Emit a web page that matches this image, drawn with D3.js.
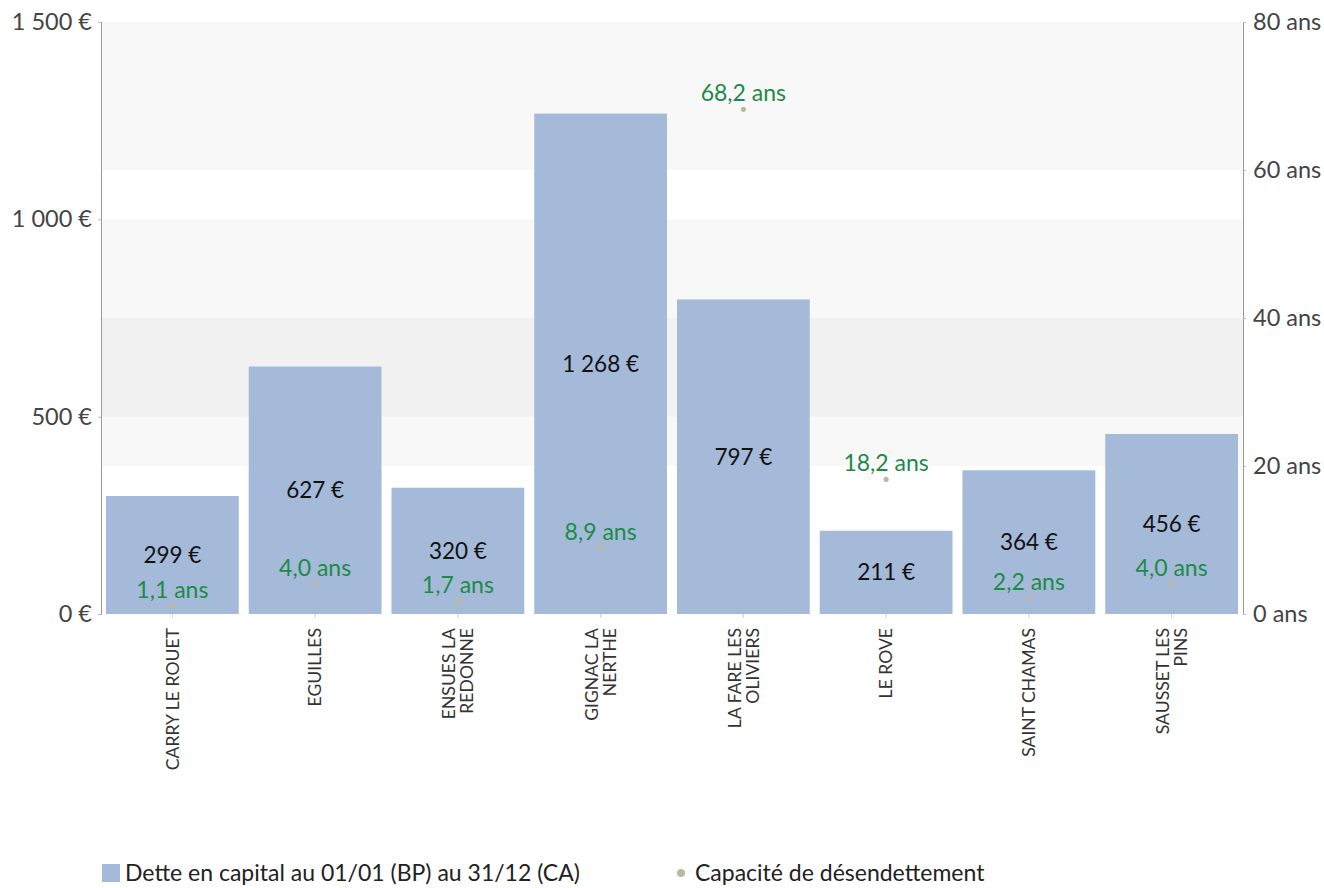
<!DOCTYPE html>
<html>
<head>
<meta charset="utf-8">
<script src="https://cdn.jsdelivr.net/npm/d3@7"></script>
<style>
  body { margin: 0; background: #fff; }
  svg { display: block; font-family: "Lato", "Noto Sans", sans-serif; }
</style>
</head>
<body>
<svg id="chart" width="1324" height="888"></svg>
<script>
// Communes
const communes = [
  ["CARRY LE ROUET"],
  ["EGUILLES"],
  ["ENSUES LA", "REDONNE"],
  ["GIGNAC LA", "NERTHE"],
  ["LA FARE LES", "OLIVIERS"],
  ["LE ROVE"],
  ["SAINT CHAMAS"],
  ["SAUSSET LES", "PINS"]
];
// Dette en capital (€ par habitant)
const dette = [299, 627, 320, 1268, 797, 211, 364, 456];
// Capacité de désendettement (années)
const capacite = [1.1, 4.0, 1.7, 8.9, 68.2, 18.2, 2.2, 4.0];
// Graduations des deux axes
const ticksEuro = [0, 500, 1000, 1500];
const ticksAns = [0, 20, 40, 60, 80];

const svg = d3.select("#chart");
const plotLeft = 101, plotRight = 1243, plotTop = 22, plotBottom = 614;

const x = d3.scaleBand()
  .domain(d3.range(communes.length))
  .range([plotLeft, plotRight])
  .paddingInner(0.07)
  .paddingOuter(0.035);
const yL = d3.scaleLinear().domain([0, 1500]).range([plotBottom, plotTop]);
const yR = d3.scaleLinear().domain([0, 80]).range([plotBottom, plotTop]);

const fmtEuro = v => d3.format(",")(v).replace(/,/g, " ") + " €";
const fmtAns = v => d3.format(".1f")(v).replace(".", ",") + " ans";

// Bandes alternées des deux axes (superposées en transparence)
const bands = svg.append("g");
[[500, 1000]].forEach(([a, b]) => {
  bands.append("rect")
    .attr("x", plotLeft).attr("width", plotRight - plotLeft)
    .attr("y", yL(b)).attr("height", yL(a) - yL(b))
    .attr("fill", "#000").attr("fill-opacity", 0.028);
});
[[20, 40], [60, 80]].forEach(([a, b]) => {
  bands.append("rect")
    .attr("x", plotLeft).attr("width", plotRight - plotLeft)
    .attr("y", yR(b)).attr("height", yR(a) - yR(b))
    .attr("fill", "#000").attr("fill-opacity", 0.028);
});

// Barres
svg.append("g").selectAll("rect")
  .data(dette)
  .join("rect")
  .attr("x", (d, i) => x(i))
  .attr("width", x.bandwidth())
  .attr("y", d => yL(d))
  .attr("height", d => yL(0) - yL(d))
  .attr("fill", "#a5bad8");

// Axe gauche
const axL = svg.append("g")
  .attr("transform", `translate(${plotLeft},0)`)
  .call(d3.axisLeft(yL).tickValues(ticksEuro).tickFormat(fmtEuro).tickSize(3).tickPadding(6));
axL.select(".domain").attr("stroke", "#999");
axL.selectAll(".tick line").attr("stroke", "#bbb");
axL.selectAll("text").attr("font-size", 23.5).attr("fill", "#444").attr("font-family", "Lato");

// Axe droit
const axR = svg.append("g")
  .attr("transform", `translate(${plotRight},0)`)
  .call(d3.axisRight(yR).tickValues(ticksAns).tickFormat(v => v + " ans").tickSize(3).tickPadding(7));
axR.select(".domain").attr("stroke", "#999");
axR.selectAll(".tick line").attr("stroke", "#bbb");
axR.selectAll("text").attr("font-size", 23.5).attr("fill", "#444").attr("font-family", "Lato");

// Axe des communes
const axX = svg.append("g")
  .attr("transform", `translate(0,${plotBottom})`)
  .call(d3.axisBottom(x).tickSize(4).tickFormat(""));
axX.select(".domain").remove();
axX.selectAll(".tick line").attr("stroke", "#ccc");

const lh = 18;
svg.append("g").selectAll("text")
  .data(communes)
  .join("text")
  .attr("transform", (d, i) => `translate(${x(i) + x.bandwidth() / 2},${plotBottom + 14}) rotate(-90)`)
  .attr("text-anchor", "end")
  .attr("font-size", 17.6)
  .attr("fill", "#333")
  .each(function(lines) {
    const t = d3.select(this);
    const n = lines.length;
    lines.forEach((ln, k) => {
      t.append("tspan")
        .attr("x", 0)
        .attr("y", (k - (n - 1) / 2) * lh)
        .attr("dy", "0.35em")
        .text(ln);
    });
  });

// Étiquettes des montants
svg.append("g").selectAll("text")
  .data(dette)
  .join("text")
  .attr("x", (d, i) => x(i) + x.bandwidth() / 2)
  .attr("y", d => (yL(d) + yL(0)) / 2)
  .attr("dy", "0.35em")
  .attr("text-anchor", "middle")
  .attr("font-size", 22.5)
  .attr("fill", "#111")
  .text(fmtEuro);

// Points de la capacité de désendettement
svg.append("g").selectAll("circle")
  .data(capacite)
  .join("circle")
  .attr("cx", (d, i) => x(i) + x.bandwidth() / 2)
  .attr("cy", d => yR(d))
  .attr("r", 2.6)
  .attr("fill", "#bdb8a2");

svg.append("g").selectAll("text")
  .data(capacite)
  .join("text")
  .attr("x", (d, i) => x(i) + x.bandwidth() / 2)
  .attr("y", d => yR(d) - 16)
  .attr("dy", "0.35em")
  .attr("text-anchor", "middle")
  .attr("font-size", 23)
  .attr("fill", "#1c8a48")
  .text(fmtAns);

// Légende
const leg = svg.append("g");
leg.append("rect").attr("x", 102).attr("y", 864).attr("width", 18).attr("height", 18).attr("fill", "#a5bad8");
leg.append("text").attr("x", 125).attr("y", 873).attr("dy", "0.35em")
  .attr("font-size", 23).attr("fill", "#222").text("Dette en capital au 01/01 (BP) au 31/12 (CA)");
leg.append("circle").attr("cx", 681).attr("cy", 873).attr("r", 4).attr("fill", "#bdb8a2");
leg.append("text").attr("x", 695).attr("y", 873).attr("dy", "0.35em")
  .attr("font-size", 23).attr("fill", "#222").text("Capacité de désendettement");
</script>
</body>
</html>
